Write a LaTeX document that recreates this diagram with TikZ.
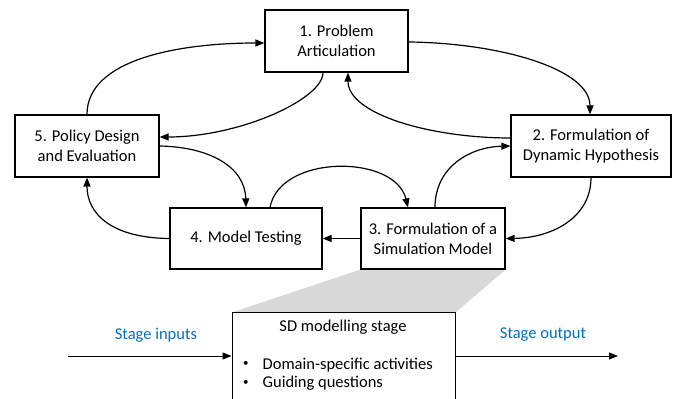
\documentclass[tikz,border=0pt]{standalone}
\usepackage{fontspec}
\setmainfont{Carlito}
\usetikzlibrary{arrows.meta,calc,backgrounds}
\definecolor{stageblue}{RGB}{0,112,192}
\definecolor{zoomgray}{RGB}{217,217,217}
\newcommand{\smallbul}{\raisebox{2.5pt}{\fontsize{11}{11}\selectfont\textbullet}}
\begin{document}
\begin{tikzpicture}[x=1pt,y=1pt,
  box/.style={draw, line width=1.2pt, fill=white, align=center, inner sep=0pt,
    font=\fontsize{16.5}{20}\selectfont},
  conn/.style={line width=1.2pt, -{Triangle[length=9pt,width=7pt]}},
  thinarrow/.style={line width=0.8pt, -{Triangle[length=9pt,width=7pt]}},
  lbl/.style={font=\fontsize{16.5}{20}\selectfont, text=stageblue},
  txt/.style={font=\fontsize{16.5}{18.5}\selectfont}]
\useasboundingbox (0,0) rectangle (678,399);

% stage boxes
\node[box, minimum width=143pt, minimum height=62pt] (b1) at (336.5,358) {1. Problem\\Articulation};
\node[box, minimum width=160pt, minimum height=62pt] (b2) at (591,253) {2. Formulation of\\Dynamic Hypothesis};
\node[box, minimum width=144pt, minimum height=61pt] (b3) at (433,160.5) {3. Formulation of a\\Simulation Model};
\node[box, minimum width=152pt, minimum height=61pt] (b4) at (246,160.5) {4. Model Testing};
\node[box, minimum width=144pt, minimum height=62pt] (b5) at (87,253) {5. Policy Design\\and Evaluation};

% detail box (cut off at the bottom of the picture)
\node[draw, line width=1pt, fill=white, minimum width=223pt, minimum height=120pt, inner sep=0pt] (sd) at (343.5,26) {};
\node[txt] (sdtitle) at (343,72) {SD modelling stage};
\node[txt, anchor=west, inner sep=0pt] (sdlist) at (243,24)
  {\begin{tabular}{@{}l@{\hspace{14pt}}l@{}}\smallbul & Domain-specific activities\\ \smallbul & Guiding questions\end{tabular}};

% zoom wedge
\begin{scope}[on background layer]
  \fill[zoomgray] (b3.south west) -- (b3.south east) -- (sd.north east) -- (sd.north west) -- cycle;
\end{scope}

% cycle connectors
\draw[conn] (b5.north) .. controls (87,340) and (180,356) .. ($(b1.west)+(0,-2)$);
\draw[conn] ($(b1.south)+(-13.5,0)$) .. controls (323,300) and (240,262) .. ($(b5.east)+(0,9)$);
\draw[conn] ($(b1.east)+(0,-1)$) .. controls (500,356) and (590,330) .. ($(b2.north)+(-1,0)$);
\draw[conn] ($(b2.west)+(0,8)$) .. controls (430,261) and (348,285) .. ($(b1.south)+(11.5,0)$);
\draw[conn] ($(b3.north)+(2,0)$) .. controls (435,232) and (470,252) .. (b2.west);
\draw[conn] (b2.south) .. controls (591,180) and (550,161) .. (b3.east);
\draw[conn] ($(b4.north)+(24,0)$) .. controls (280,245) and (395,245) .. ($(b3.north)+(-25,0)$);
\draw[conn] (b5.east) .. controls (210,252) and (245,232) .. (b4.north);
\draw[conn] (b4.west) .. controls (112,161) and (87,185) .. (b5.south);
\draw[conn] (b3.west) -- (b4.east);

% stage inputs / output
\coordinate (inStart) at (68,43);
\coordinate (outEnd) at (618,43);
\draw[thinarrow] (inStart) -- (inStart -| sd.west);
\draw[thinarrow] (outEnd -| sd.east) -- (outEnd);
\node[lbl] (inlbl) at (156,64) {Stage inputs};
\node[lbl] (outlbl) at (543,64) {Stage output};
\end{tikzpicture}
\end{document}
